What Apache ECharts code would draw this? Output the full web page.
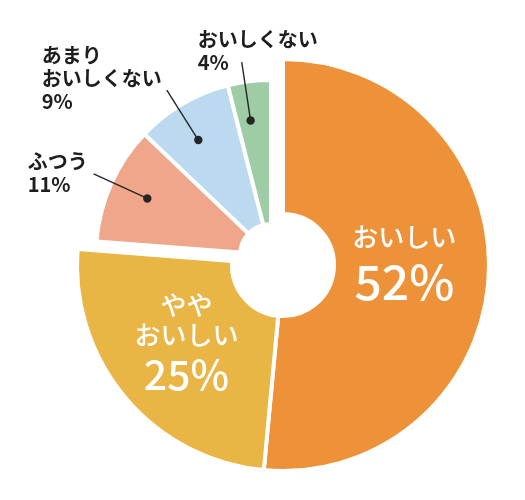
<!DOCTYPE html>
<html>
<head>
<meta charset="utf-8">
<script src="https://cdn.jsdelivr.net/npm/echarts@6/dist/echarts.min.js"></script>
<style>html,body{margin:0;padding:0;background:#fff}#c{width:525px;height:500px}</style>
</head>
<body>
<div id="c"></div>
<script>
// ---- data ----
const categories = ['おいしい', 'やや\nおいしい', 'ふつう', 'あまり\nおいしくない', 'おいしくない'];
const values = [52, 25, 11, 9, 4];
const ringOf = ['large', 'large', 'small', 'small', 'small'];

// ---- styles / layout ----
const palette = ['#EE923A', '#E9B544', '#EFA68B', '#BCDAEF', '#9ECCA5'];
const FONT = "'Noto Sans CJK JP', 'Noto Sans', sans-serif";
const rings = {
  large: { center: [283, 265], radius: [51, 206] },
  small: { center: [271, 255], radius: [31, 175] }
};
const bigLabelShift = { 0: [-10, -4], 1: [4, -5] };
const outerLabelOffset = { 2: [-66, -24.5], 3: [-125, -46], 4: [-44, -34.5] };
const guideRot = { 2: 0.5, 3: -2, 4: -1.5 };
const DOT_R = 136, END_R = 195;

const total = values.reduce((a, b) => a + b, 0);
function startAngle(i) { let s = 0; for (let k = 0; k < i; k++) s += values[k]; return s / total * 360; }
function midAngle(i) { return startAngle(i) + values[i] / total * 180; }
function polar(center, r, deg) {
  const a = deg * Math.PI / 180;
  return [center[0] + r * Math.sin(a), center[1] - r * Math.cos(a)];
}
function guide(i) {
  const c = rings[ringOf[i]].center;
  const th = midAngle(i) + (guideRot[i] || 0);
  return { dot: polar(c, DOT_R, th), end: polar(c, END_R, th) };
}

function ringData(ring) {
  return values.map((v, i) => {
    if (ringOf[i] === ring) {
      return { name: categories[i], value: v, itemStyle: { color: palette[i] } };
    }
    return {
      name: '_' + i, value: v,
      itemStyle: { color: 'rgba(0,0,0,0)', borderWidth: 0 },
      label: { show: false }, labelLine: { show: false }
    };
  });
}

const chart = echarts.init(document.getElementById('c'), null, { renderer: 'canvas' });

const graphics = [];
values.forEach((v, i) => {
  if (ringOf[i] !== 'small') return;
  const g = guide(i);
  graphics.push({ type: 'polyline', z: 100, shape: { points: [g.dot, g.end] }, style: { stroke: '#262626', lineWidth: 1.4, fill: null } });
  graphics.push({ type: 'circle', z: 101, shape: { cx: g.dot[0], cy: g.dot[1], r: 4.2 }, style: { fill: '#262626' } });
});

chart.setOption({
  animation: false,
  backgroundColor: '#ffffff',
  graphic: graphics,
  series: [
    {
      type: 'pie',
      center: rings.large.center,
      radius: rings.large.radius,
      startAngle: 90,
      clockwise: true,
      avoidLabelOverlap: false,
      emphasis: { disabled: true },
      itemStyle: { borderColor: '#ffffff', borderWidth: 4 },
      label: {
        show: true,
        position: 'inside',
        overflow: 'none',
        formatter: function (p) {
          const lines = p.name.split('\n').map(s => '{n|' + s + '}');
          const big = p.dataIndex === 0 ? 'p' : 'q';
          return lines.join('\n') + '\n{' + big + '|' + p.value + '%}';
        },
        rich: {
          n: { fontFamily: FONT, fontSize: 26, fontWeight: 500, color: '#fff', lineHeight: 30 },
          p: { fontFamily: FONT, fontSize: 48, fontWeight: 500, color: '#fff', lineHeight: 60 },
          q: { fontFamily: FONT, fontSize: 41, fontWeight: 500, color: '#fff', lineHeight: 49 }
        }
      },
      labelLine: { show: false },
      labelLayout: function (p) {
        const s = bigLabelShift[p.dataIndex];
        return s ? { dx: s[0], dy: s[1] } : {};
      },
      data: ringData('large')
    },
    {
      type: 'pie',
      center: rings.small.center,
      radius: rings.small.radius,
      startAngle: 90,
      clockwise: true,
      avoidLabelOverlap: false,
      emphasis: { disabled: true },
      itemStyle: { borderColor: '#ffffff', borderWidth: 4 },
      label: {
        show: true,
        position: 'outside',
        overflow: 'none',
        formatter: function (p) {
          const lines = p.name.split('\n').map(s => '{t|' + s + '}');
          return lines.join('\n') + '\n{t|' + p.value + '%}';
        },
        rich: {
          t: { fontFamily: FONT, fontSize: 20, fontWeight: 'bold', color: '#1e1e1e', lineHeight: 23 }
        }
      },
      labelLine: { show: false },
      labelLayout: function (p) {
        const i = p.dataIndex;
        if (ringOf[i] !== 'small') return {};
        const g = guide(i);
        const off = outerLabelOffset[i];
        return {
          x: g.end[0] + off[0], y: g.end[1] + off[1],
          align: 'left', verticalAlign: 'top'
        };
      },
      data: ringData('small')
    }
  ]
});
</script>
</body>
</html>
